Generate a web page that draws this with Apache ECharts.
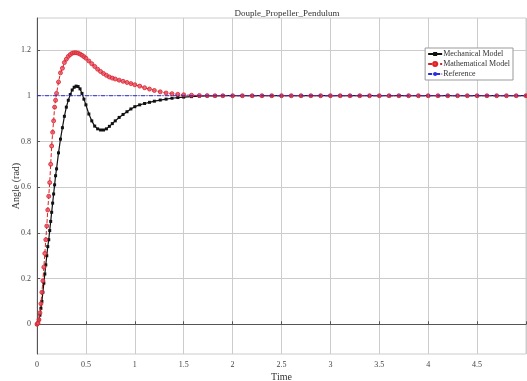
<!DOCTYPE html>
<html>
<head>
<meta charset="utf-8">
<script src="https://cdn.jsdelivr.net/npm/echarts@6/dist/echarts.min.js"></script>
<style>
  html, body { margin: 0; padding: 0; background: #fff; }
  #chart { width: 527px; height: 381px; }
</style>
</head>
<body>
<div id="chart"></div>
<script>
// sample times (solver steps, denser at the start)
const time = [
  0, 0.01, 0.02, 0.03, 0.04, 0.05, 0.06, 0.07, 0.08, 0.09,
  0.10, 0.11, 0.12, 0.13, 0.14, 0.15, 0.16, 0.17, 0.18, 0.19,
  0.20, 0.22, 0.24, 0.26, 0.28, 0.30, 0.32, 0.34, 0.36, 0.38,
  0.40, 0.42, 0.44, 0.46, 0.48, 0.50, 0.53, 0.56, 0.59, 0.62,
  0.65, 0.68, 0.71, 0.74, 0.77, 0.80, 0.84, 0.88, 0.92, 0.96,
  1.00, 1.05, 1.10, 1.15, 1.20, 1.26, 1.32, 1.38, 1.44, 1.50,
  1.58, 1.66, 1.74, 1.82, 1.90, 2.0, 2.1, 2.2, 2.3, 2.4,
  2.5, 2.6, 2.7, 2.8, 2.9, 3.0, 3.1, 3.2, 3.3, 3.4,
  3.5, 3.6, 3.7, 3.8, 3.9, 4.0, 4.1, 4.2, 4.3, 4.4,
  4.5, 4.6, 4.7, 4.8, 4.9, 5.0
];

const mechanical = [
  0, 0.005, 0.02, 0.04, 0.07, 0.10, 0.14, 0.18, 0.22, 0.26,
  0.30, 0.34, 0.37, 0.41, 0.45, 0.49, 0.53, 0.57, 0.61, 0.65,
  0.68, 0.75, 0.81, 0.86, 0.91, 0.95, 0.98, 1.005, 1.025, 1.037,
  1.042, 1.04, 1.03, 1.01, 0.985, 0.96, 0.92, 0.89, 0.867, 0.855,
  0.85, 0.85, 0.855, 0.866, 0.878, 0.89, 0.905, 0.918, 0.93, 0.942,
  0.952, 0.96, 0.966, 0.971, 0.976, 0.981, 0.985, 0.989, 0.992, 0.994,
  0.996, 0.998, 0.999, 0.9995, 1, 1, 1, 1, 1, 1,
  1, 1, 1, 1, 1, 1, 1, 1, 1, 1,
  1, 1, 1, 1, 1, 1, 1, 1, 1, 1,
  1, 1, 1, 1, 1, 1
];

const mathematical = [
  0, 0.005, 0.02, 0.05, 0.09, 0.14, 0.19, 0.25, 0.31, 0.37,
  0.43, 0.50, 0.56, 0.62, 0.70, 0.78, 0.84, 0.89, 0.95, 0.98,
  1.01, 1.06, 1.10, 1.12, 1.145, 1.16, 1.172, 1.18, 1.186, 1.188,
  1.188, 1.186, 1.182, 1.177, 1.171, 1.164, 1.152, 1.14, 1.128, 1.116,
  1.106, 1.097, 1.089, 1.082, 1.077, 1.073, 1.068, 1.063, 1.058, 1.053,
  1.048, 1.042, 1.035, 1.029, 1.023, 1.017, 1.012, 1.009, 1.006, 1.004,
  1.002, 1.001, 1.0005, 1, 1, 1, 1, 1, 1, 1,
  1, 1, 1, 1, 1, 1, 1, 1, 1, 1,
  1, 1, 1, 1, 1, 1, 1, 1, 1, 1,
  1, 1, 1, 1, 1, 1
];

const referenceTime = [0, 5];
const referenceValue = [1, 1];

const yTicks = [0, 0.2, 0.4, 0.6, 0.8, 1, 1.2];

const font = '"Liberation Serif", "DejaVu Serif", serif';
const pairs = (xs, ys) => xs.map((x, i) => [x, ys[i]]);

const chart = echarts.init(document.getElementById('chart'), null, {renderer: 'canvas'});

chart.setOption({
  animation: false,
  backgroundColor: '#fff',
  textStyle: { fontFamily: font },
  title: {
    text: 'Douple_Propeller_Pendulum',
    left: 282,
    textAlign: 'center',
    top: 4,
    textStyle: { fontFamily: font, fontSize: 9, fontWeight: 'normal', color: '#333' }
  },
  grid: {
    left: 37, right: 1, top: 18, bottom: 27,
    outerBoundsMode: 'none',
    containLabel: false,
    show: true, borderColor: '#ccc', borderWidth: 1
  },
  legend: {
    orient: 'vertical',
    right: 14,
    top: 48,
    itemWidth: 14,
    itemHeight: 5,
    itemGap: 2,
    padding: [2, 3, 2, 2],
    backgroundColor: '#fff',
    borderColor: '#999',
    borderWidth: 1,
    borderRadius: 0,
    textStyle: { fontFamily: font, fontSize: 8, color: '#333', padding: [0, 0, 0, -4] },
    data: ['Mechanical Model', 'Mathematical Model', 'Reference']
  },
  xAxis: {
    type: 'value',
    min: 0, max: 5, interval: 0.5,
    name: 'Time',
    nameLocation: 'middle',
    nameGap: 18,
    nameMoveOverlap: false,
    nameTextStyle: { fontFamily: font, fontSize: 10, color: '#333' },
    axisLine: { lineStyle: { color: '#555' } },
    axisTick: { inside: true, length: 3, lineStyle: { color: '#555' } },
    axisLabel: {
      fontFamily: font, fontSize: 8, color: '#444', margin: 7,
      formatter: v => (v === 5 ? '' : String(v))
    },
    splitLine: { show: true, lineStyle: { color: '#ccc', width: 1 } }
  },
  yAxis: {
    type: 'value',
    min: -0.13, max: 1.34,
    name: 'Angle (rad)',
    nameLocation: 'middle',
    nameGap: 16,
    nameMoveOverlap: false,
    nameTextStyle: { fontFamily: font, fontSize: 10, color: '#333' },
    axisLine: { show: true, lineStyle: { color: '#555' } },
    axisTick: { show: true, inside: true, length: 3, customValues: yTicks, lineStyle: { color: '#555' } },
    axisLabel: { fontFamily: font, fontSize: 8, color: '#444', margin: 6, customValues: yTicks },
    splitLine: { show: true, lineStyle: { color: '#ccc', width: 1 } }
  },
  series: [
    {
      name: 'Mechanical Model',
      type: 'line',
      data: pairs(time, mechanical),
      symbol: 'rect',
      symbolSize: 3,
      showAllSymbol: true,
      lineStyle: { color: '#111', width: 1.2 },
      itemStyle: { color: '#111' },
      z: 2
    },
    {
      name: 'Mathematical Model',
      type: 'line',
      data: pairs(time, mathematical),
      symbol: 'circle',
      symbolSize: 4,
      showAllSymbol: true,
      lineStyle: { color: '#e02020', width: 1, type: [4, 2] },
      itemStyle: { color: 'rgba(225,80,110,0.8)', borderColor: '#e02020', borderWidth: 0.8 },
      z: 3
    },
    {
      name: 'Reference',
      type: 'line',
      data: pairs(referenceTime, referenceValue),
      symbol: 'none',
      lineStyle: { color: '#2a2ae0', width: 1, type: [4, 1.5, 1, 1.5] },
      itemStyle: { color: '#2a2ae0' },
      z: 4
    }
  ]
});
</script>
</body>
</html>
